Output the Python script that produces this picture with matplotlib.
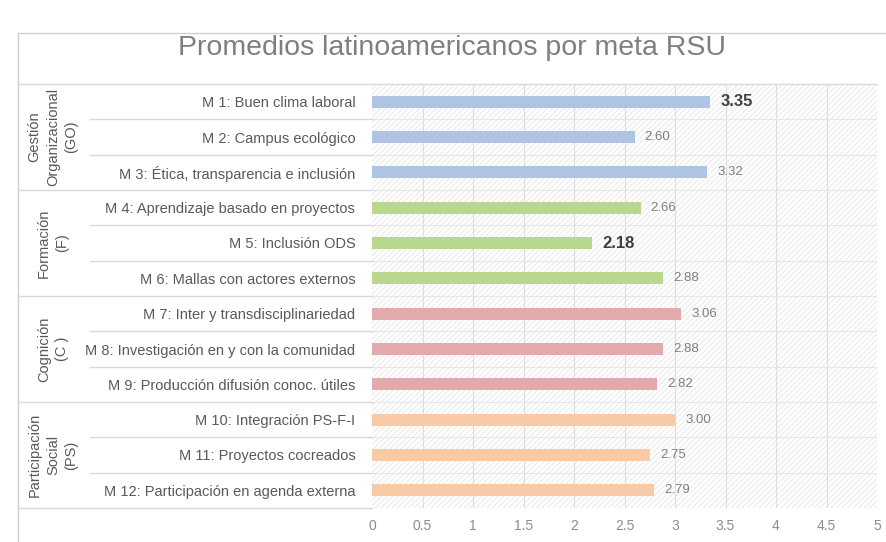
import matplotlib.pyplot as plt
from matplotlib.patches import Rectangle
from matplotlib.lines import Line2D

# ==============================
# Data
# ==============================
metas = [
    "M 1: Buen clima laboral",
    "M 2: Campus ecológico",
    "M 3: Ética, transparencia e inclusión",
    "M 4: Aprendizaje basado en proyectos",
    "M 5: Inclusión ODS",
    "M 6: Mallas con actores externos",
    "M 7: Inter y transdisciplinariedad",
    "M 8: Investigación en y con la comunidad",
    "M 9: Producción difusión conoc. útiles",
    "M 10: Integración PS-F-I",
    "M 11: Proyectos cocreados",
    "M 12: Participación en agenda externa",
]
promedios = [3.35, 2.60, 3.32, 2.66, 2.18, 2.88, 3.06, 2.88, 2.82, 3.00, 2.75, 2.79]
grupos = ["Gestión\nOrganizacional\n(GO)", "Formación\n(F)", "Cognición\n(C )",
          "Participación\nSocial\n(PS)"]
colores_grupo = ["#aec4e2", "#b9d78f", "#e2aaad", "#f9caa6"]
destacados = [0, 4]  # max / min in bold

W, H = 887, 542
fig = plt.figure(figsize=(W / 100, H / 100), dpi=100)
plt.rcParams["font.family"] = ["Liberation Sans", "DejaVu Sans"]
plt.rcParams["hatch.linewidth"] = 0.5
plt.rcParams["hatch.color"] = "#e0e0e0"

def fx(px):
    return px / W

def fy(py):
    return 1 - py / H

left, right, top, bottom = 372, 877, 84, 508
ax = fig.add_axes([fx(left), fy(bottom), fx(right - left), fy(top) - fy(bottom)])

n = len(metas)
ypos = list(range(n))
colors = [colores_grupo[i // 3] for i in range(n)]

# hatched background
ax.add_patch(Rectangle((0, -0.5), 5, n, facecolor="white", edgecolor="#e0e0e0",
                       hatch="//////", linewidth=0, zorder=0))
for xv in [0.5 * k for k in range(1, 11)]:
    ax.axvline(xv, color="#dddddd", linewidth=0.8, zorder=1)
for k in range(1, n):
    ax.axhline(k - 0.5, color="#e6e6e6", linewidth=0.8, zorder=1)

ax.barh(ypos, promedios, height=0.34, color=colors, zorder=2)

for i, v in enumerate(promedios):
    if i in destacados:
        ax.text(v + 0.1, i, f"{v:.2f}", va="center", ha="left", fontsize=12,
                fontweight="bold", color="#404040")
    else:
        ax.text(v + 0.1, i, f"{v:.2f}", va="center", ha="left", fontsize=9.5,
                color="#7f7f7f")

ax.set_xlim(0, 5)
ax.set_ylim(n - 0.5, -0.5)
ax.set_xticks([0.5 * k for k in range(11)])
ax.set_xticklabels(["0", "0.5", "1", "1.5", "2", "2.5", "3", "3.5", "4", "4.5", "5"],
                   color="#8c8c8c", fontsize=10)
ax.set_yticks(ypos)
ax.set_yticklabels(metas, color="#595959", fontsize=10.5)
ax.tick_params(axis="both", length=0)
ax.tick_params(axis="y", pad=12)
ax.tick_params(axis="x", pad=8)
for s in ax.spines.values():
    s.set_visible(False)

# chart frame
fig.add_artist(Line2D([fx(18), fx(18)], [fy(33), 0], color="#d0d0d0", linewidth=1))
fig.add_artist(Line2D([fx(18), 1], [fy(33), fy(33)], color="#d0d0d0", linewidth=1))

fig.text(fx(452), fy(48), "Promedios latinoamericanos por meta RSU", ha="center",
         va="center", fontsize=20.5, color="#7f7f7f")

# category separators
row_h = (bottom - top) / n
fig.add_artist(Line2D([fx(18), fx(right)], [fy(top), fy(top)], color="#d9d9d9", linewidth=1))
for k in range(1, n + 1):
    y = top + k * row_h
    x0 = 18 if k % 3 == 0 else 90
    fig.add_artist(Line2D([fx(x0), fx(left)], [fy(y), fy(y)], color="#d9d9d9", linewidth=1))

for g, name in enumerate(grupos):
    yc = top + (g * 3 + 1.5) * row_h
    fig.text(fx(53), fy(yc), name, rotation=90, ha="center", va="center",
             fontsize=10.5, color="#595959", linespacing=1.4, multialignment="center")

fig.savefig("out.png", dpi=100)
